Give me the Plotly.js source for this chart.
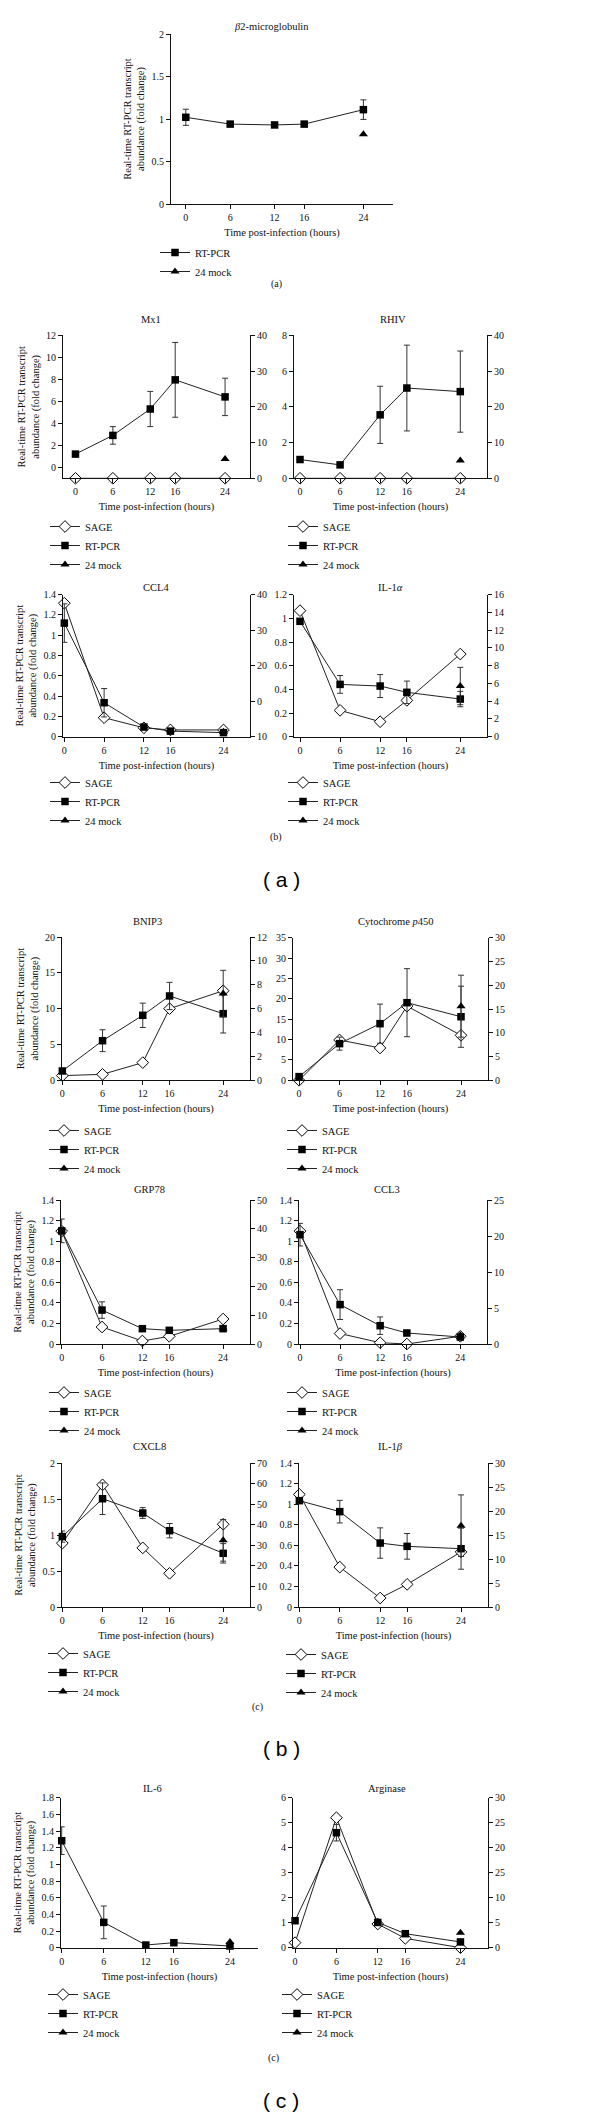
<!DOCTYPE html>
<html><head><meta charset="utf-8">
<script src="https://cdn.plot.ly/plotly-3.0.1.min.js"></script>
<style>html,body{margin:0;padding:0;background:#fff}</style>
</head><body><div id="chart" style="width:600px;height:2115px"></div>
<script>
// ---------------- DATA ----------------
const hours = [0, 6, 12, 16, 24];
const mockHour = [24];
const xTickLabels = ['0', '6', '12', '16', '24'];

// (a) beta2-microglobulin
const b2m_rt = [1.02, 0.94, 0.93, 0.94, 1.11];
const b2m_rtErr = [0.095, 0, 0, 0, 0.115];
const b2m_mock = [0.82];

// Mx1
const mx1_sage = [0, 0, 0, 0, 0];
const mx1_rt = [1.2, 2.9, 5.3, 7.95, 6.4];
const mx1_rtErr = [0.15, 0.8, 1.6, 3.4, 1.7];
const mx1_mock = [0.75];

// RHIV
const rhiv_sage = [0, 0, 0, 0, 0];
const rhiv_rt = [1.05, 0.75, 3.55, 5.05, 4.85];
const rhiv_rtErr = [0.1, 0.1, 1.6, 2.4, 2.27];
const rhiv_mock = [1.0];

// CCL4
const ccl4_sage = [37.6, 5.35, 2.5, 1.9, 1.9];
const ccl4_rt = [1.12, 0.335, 0.095, 0.055, 0.04];
const ccl4_rtErr = [0.19, 0.14, 0, 0, 0];
const ccl4_mock = [0.05];
const ccl4_rightTickVals = [0, 10, 20, 30, 40];
const ccl4_rightTickText = ['10', '0', '20', '30', '40'];

// IL-1alpha
const il1a_sage = [14.2, 2.97, 1.69, 4.09, 9.31];
const il1a_rt = [0.975, 0.442, 0.428, 0.375, 0.318];
const il1a_rtErr = [0.02, 0.075, 0.097, 0.095, 0.065];
const il1a_mock = [0.428];
const il1a_mockErr = [0.158];

// BNIP3
const bnip3_sage = [0.39, 0.5, 1.48, 6.0, 7.5];
const bnip3_rt = [1.3, 5.53, 9.07, 11.77, 9.3];
const bnip3_rtErr = [0.2, 1.53, 1.7, 1.9, 2.7];
const bnip3_mock = [12.1];
const bnip3_mockErr = [3.25];

// Cytochrome p450
const cyp_sage = [0, 8.48, 6.8, 15.6, 9.46];
const cyp_rt = [0.9, 9.0, 13.9, 19.05, 15.6];
const cyp_rtErr = [0.3, 1.6, 4.8, 8.35, 7.5];
const cyp_mock = [18.2];
const cyp_mockErr = [7.6];

// GRP78
const grp78_sage = [39.2, 5.9, 1.04, 2.66, 8.67];
const grp78_rt = [1.1, 0.33, 0.149, 0.133, 0.149];
const grp78_rtErr = [0.115, 0.08, 0, 0, 0];
const grp78_mock = [0.15];

// CCL3
const ccl3_sage = [19.6, 1.81, 0.23, 0, 1.34];
const ccl3_rt = [1.063, 0.383, 0.178, 0.107, 0.068];
const ccl3_rtErr = [0.11, 0.145, 0.085, 0.01, 0];
const ccl3_mock = [0.084];
const ccl3_rightTickVals = [0, 6.25, 12.5, 18.75, 25];
const ccl3_rightTickText = ['0', '5', '10', '20', '25'];

// CXCL8
const cxcl8_sage = [31.1, 59.5, 28.8, 16.4, 40.3];
const cxcl8_rt = [0.98, 1.507, 1.308, 1.062, 0.747];
const cxcl8_rtErr = [0.078, 0.22, 0.075, 0.1, 0.135];
const cxcl8_mock = [0.928];
const cxcl8_mockErr = [0.29];

// IL-1beta
const il1b_sage = [23.5, 8.33, 1.875, 4.72, 11.5];
const il1b_rt = [1.036, 0.929, 0.623, 0.591, 0.568];
const il1b_rtErr = [0.02, 0.11, 0.148, 0.125, 0.2];
const il1b_mock = [0.792];
const il1b_mockErr = [0.3];

// IL-6 (no SAGE points are drawn in the panel, only the legend entry)
const il6_sage = [null, null, null, null, null];
const il6_rt = [1.284, 0.304, 0.032, 0.06, 0.02];
const il6_rtErr = [0.166, 0.196, 0, 0, 0];
const il6_mock = [0.068];

// Arginase
const arg_sage = [1.0, 26.0, 4.73, 1.87, 0];
const arg_rt = [1.08, 4.6, 1.01, 0.56, 0.23];
const arg_rtErr = [0.05, 0.33, 0.05, 0.03, 0.02];
const arg_mock = [0.6];
const arg_rightTickVals = [0, 5, 10, 15, 20, 25, 30];
const arg_rightTickText = ['0', '5', '10', '25', '20', '25', '30'];

// ---------------- LAYOUT CONFIG ----------------
const W = 600, H = 2115;
const SERIF = 'Liberation Serif, Times New Roman, serif';
const SANS = 'Liberation Sans, Arial, sans-serif';
const INK = '#111';

const panels = [
  {name:'<i>β</i>2-microglobulin', sage:null, rt:b2m_rt, rtErr:b2m_rtErr, mock:b2m_mock, mockErr:null,
   box:[171,393,34,204], xr:[-2,28], yl:{range:[0,2], dtick:0.5}, yr:null, ytitle:true, tpos:[271,26], lpos:[195,252]},
  {name:'Mx1', sage:mx1_sage, rt:mx1_rt, rtErr:mx1_rtErr, mock:mx1_mock, mockErr:null,
   box:[63,250,335.3,478.3], xr:[-2,28], yl:{range:[-1,12], dtick:2, tick0:0}, yr:{range:[0,40], dtick:10}, ytitle:true, tpos:[151,319], lpos:[85,526]},
  {name:'RHIV', sage:rhiv_sage, rt:rhiv_rt, rtErr:rhiv_rtErr, mock:rhiv_mock, mockErr:null,
   box:[294,487,335.3,478.3], xr:[-0.9,28], yl:{range:[0,8], dtick:2}, yr:{range:[0,40], dtick:10}, ytitle:false, tpos:[393,319], lpos:[323,526]},
  {name:'CCL4', sage:ccl4_sage, rt:ccl4_rt, rtErr:ccl4_rtErr, mock:ccl4_mock, mockErr:null,
   box:[63,250,594.7,736.7], xr:[-0.2,28], yl:{range:[0,1.4], dtick:0.2}, yr:{range:[0,40], tickvals:ccl4_rightTickVals, ticktext:ccl4_rightTickText}, ytitle:true, tpos:[156,587], lpos:[85,782]},
  {name:'IL-1<i>α</i>', sage:il1a_sage, rt:il1a_rt, rtErr:il1a_rtErr, mock:il1a_mock, mockErr:il1a_mockErr,
   box:[294,487,594.7,736.7], xr:[-0.9,28], yl:{range:[0,1.2], dtick:0.2}, yr:{range:[0,16], dtick:2}, ytitle:false, tpos:[390,587], lpos:[323,782]},
  {name:'BNIP3', sage:bnip3_sage, rt:bnip3_rt, rtErr:bnip3_rtErr, mock:bnip3_mock, mockErr:bnip3_mockErr,
   box:[62,250,937,1080.3], xr:[-0.05,28], yl:{range:[0,20], dtick:5}, yr:{range:[0,12], dtick:2}, ytitle:true, tpos:[147,921], lpos:[84,1130]},
  {name:'Cytochrome <i>p</i>450', sage:cyp_sage, rt:cyp_rt, rtErr:cyp_rtErr, mock:cyp_mock, mockErr:cyp_mockErr,
   box:[293,488,937.7,1080.3], xr:[-0.9,28], yl:{range:[0,35], dtick:5}, yr:{range:[0,30], dtick:5}, ytitle:false, tpos:[396,921], lpos:[322,1130]},
  {name:'GRP78', sage:grp78_sage, rt:grp78_rt, rtErr:grp78_rtErr, mock:grp78_mock, mockErr:null,
   box:[61,250,1200,1344], xr:[-0.1,28], yl:{range:[0,1.4], dtick:0.2}, yr:{range:[0,50], dtick:10}, ytitle:true, tpos:[149,1189], lpos:[84,1392]},
  {name:'CCL3', sage:ccl3_sage, rt:ccl3_rt, rtErr:ccl3_rtErr, mock:ccl3_mock, mockErr:null,
   box:[299,487,1200,1344], xr:[-0.15,28], yl:{range:[0,1.4], dtick:0.2}, yr:{range:[0,25], tickvals:ccl3_rightTickVals, ticktext:ccl3_rightTickText}, ytitle:false, tpos:[387,1189], lpos:[322,1392]},
  {name:'CXCL8', sage:cxcl8_sage, rt:cxcl8_rt, rtErr:cxcl8_rtErr, mock:cxcl8_mock, mockErr:cxcl8_mockErr,
   box:[62,250,1463.3,1607], xr:[-0.05,28], yl:{range:[0,2], dtick:0.5}, yr:{range:[0,70], dtick:10}, ytitle:true, tpos:[149,1446], lpos:[83,1653]},
  {name:'IL-1<i>β</i>', sage:il1b_sage, rt:il1b_rt, rtErr:il1b_rtErr, mock:il1b_mock, mockErr:il1b_mockErr,
   box:[299,488,1463.3,1607], xr:[-0.05,28], yl:{range:[0,1.4], dtick:0.2}, yr:{range:[0,30], dtick:5}, ytitle:false, tpos:[391,1446], lpos:[321,1654]},
  {name:'IL-6', sage:il6_sage, rt:il6_rt, rtErr:il6_rtErr, mock:il6_mock, mockErr:null,
   box:[61,258,1797.7,1947.7], xr:[-0.1,28], yl:{range:[0,1.8], dtick:0.2}, yr:null, ytitle:true, tpos:[152,1788], lpos:[83,1994]},
  {name:'Arginase', sage:arg_sage, rt:arg_rt, rtErr:arg_rtErr, mock:arg_mock, mockErr:null,
   box:[293,488,1797.7,1947.7], xr:[-0.3,28], yl:{range:[0,6], dtick:1}, yr:{range:[0,30], tickvals:arg_rightTickVals, ticktext:arg_rightTickText}, ytitle:false, tpos:[387,1788], lpos:[317,1994]}
];

const sectionLabels = [
  {text:'(a)', pos:[276,284], big:false},
  {text:'(b)', pos:[276,837], big:false},
  {text:'( a )', pos:[281,879], big:true},
  {text:'(c)', pos:[257,1707], big:false},
  {text:'( b )', pos:[281,1748], big:true},
  {text:'(c)', pos:[273,2058], big:false},
  {text:'( c )', pos:[281,2100], big:true}
];

const fx = px => px / W;
const fy = py => 1 - py / H;
const tickFont = {family: SERIF, size: 10, color: INK};
const axisBase = {showline:true, linecolor:INK, linewidth:1, ticks:'outside', ticklen:4, tickwidth:1, tickcolor:INK,
  showgrid:false, zeroline:false, tickfont:tickFont, fixedrange:true};

const layout = {width:W, height:H, margin:{l:0,r:0,t:0,b:0}, paper_bgcolor:'#fff', plot_bgcolor:'rgba(0,0,0,0)',
  showlegend:true, annotations:[], font:{family:SERIF, color:INK}};
const data = [];
const N = panels.length;

panels.forEach((p, i) => {
  const n = i + 1;
  const xid = n === 1 ? 'x' : 'x' + n;
  const ylid = n === 1 ? 'y' : 'y' + n;
  const yrid = 'y' + (N + n);
  const baseY = p.yr ? yrid : ylid;
  const legId = n === 1 ? 'legend' : 'legend' + n;
  const dom = [fy(p.box[3]), fy(p.box[2])];

  layout['xaxis' + (n === 1 ? '' : n)] = Object.assign({}, axisBase, {
    domain:[fx(p.box[0]), fx(p.box[1])], anchor: baseY, range: p.xr,
    tickvals: hours, ticktext: xTickLabels,
    title:{text:'Time post-infection (hours)', font:{family:SERIF, size:10.5, color:INK}, standoff:6}
  });
  const left = Object.assign({}, axisBase, p.yl, {domain:dom, anchor:xid, side:'left'});
  if (p.ytitle) left.title = {text:'Real-time RT-PCR transcript<br>abundance (fold change)', font:{family:SERIF, size:10.5, color:INK}, standoff:4};
  if (p.yr) {
    left.overlaying = yrid;
    layout['yaxis' + (N + n)] = Object.assign({}, axisBase, p.yr, {domain:dom, anchor:xid, side:'right'});
  }
  layout['yaxis' + (n === 1 ? '' : n)] = left;

  layout[legId] = {x: fx(p.lpos[0] - 40), y: fy(p.lpos[1] - 14), xanchor:'left', yanchor:'top',
    bgcolor:'rgba(0,0,0,0)', borderwidth:0, itemwidth:30, tracegroupgap:0, traceorder:'normal',
    font:{family:SERIF, size:10.5, color:INK}};

  const lineStyle = {color:'#222', width:1};
  if (p.sage) {
    data.push({x: hours, y: p.sage, xaxis:xid, yaxis: p.yr ? yrid : ylid,
      mode:'lines+markers', name:'SAGE', legend:legId, cliponaxis:false,
      line:lineStyle, marker:{symbol:'diamond', size:9, color:'#fff', line:{color:'#000', width:1}}});
  }
  data.push({x: hours, y: p.rt, xaxis:xid, yaxis:ylid, mode:'lines+markers', name:'RT-PCR', legend:legId, cliponaxis:false,
    line:lineStyle, marker:{symbol:'square', size:7.5, color:'#000'},
    error_y:{type:'data', array:p.rtErr, visible:true, color:'#333', thickness:1, width:3}});
  const mockTrace = {x: mockHour, y: p.mock, xaxis:xid, yaxis:ylid, mode:'lines+markers', name:'24 mock', legend:legId, cliponaxis:false,
    line:lineStyle, marker:{symbol:'triangle-up', size:8, color:'#000'}};
  if (p.mockErr) mockTrace.error_y = {type:'data', array:p.mockErr, visible:true, color:'#333', thickness:1, width:3};
  data.push(mockTrace);

  layout.annotations.push({text:p.name, xref:'paper', yref:'paper', x:fx(p.tpos[0]), y:fy(p.tpos[1]),
    xanchor:'center', yanchor:'middle', showarrow:false, font:{family:SERIF, size:10.5, color:INK}});
});

sectionLabels.forEach(s => {
  layout.annotations.push({text:s.text, xref:'paper', yref:'paper', x:fx(s.pos[0]), y:fy(s.pos[1]),
    xanchor:'center', yanchor:'middle', showarrow:false,
    font: s.big ? {family:SANS, size:21, color:'#000'} : {family:SERIF, size:10, color:INK}});
});

Plotly.newPlot('chart', data, layout, {staticPlot:true, displayModeBar:false});
</script></body></html>
